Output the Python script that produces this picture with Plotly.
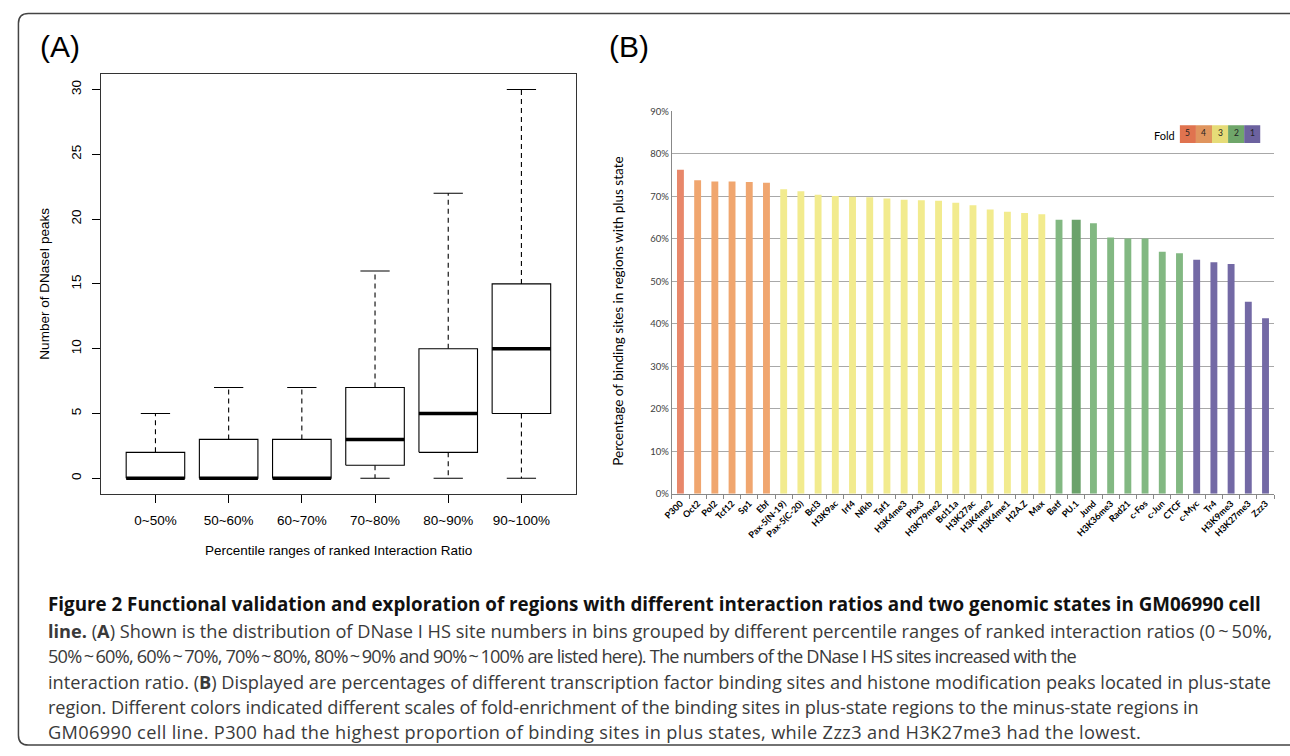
import plotly.graph_objects as go

W, H = 1290, 756

# ---------------- Panel A data (box plot summary statistics) ----------------
ranges = ["0~50%", "50~60%", "60~70%", "70~80%", "80~90%", "90~100%"]
lower_whisker = [0, 0, 0, 0, 0, 0]
q1 = [0, 0, 0, 1, 2, 5]
median = [0, 0, 0, 3, 5, 10]
q3 = [2, 3, 3, 7, 10, 15]
upper_whisker = [5, 7, 7, 16, 22, 30]

# ---------------- Panel B data ----------------
factors = ["P300", "Oct2", "Pol2", "Tcf12", "Sp1", "Ebf", "Pax-5(N-19)", "Pax-5(C-20)",
           "Bcl3", "H3K9ac", "Irf4", "Nfkb", "Taf1", "H3K4me3", "Pbx3", "H3K79me2",
           "Bcl11a", "H3K27ac", "H3K4me2", "H3K4me1", "H2A.Z", "Max", "Batf", "PU.1",
           "Jund", "H3K36me3", "Rad21", "c-Fos", "c-Jun", "CTCF", "c-Myc", "Tr4",
           "H3K9me3", "H3K27me3", "Zzz3"]
percent_plus = [76.3, 73.8, 73.5, 73.5, 73.4, 73.2, 71.7, 71.2,
                70.4, 70.1, 69.9, 69.8, 69.5, 69.2, 69.1, 69.0,
                68.5, 67.9, 66.9, 66.4, 66.1, 65.8, 64.5, 64.5,
                63.7, 60.3, 60.1, 60.1, 57.0, 56.6, 55.1, 54.5,
                54.1, 45.2, 41.3]
fold = [5, 4, 4, 4, 4, 4, 3, 3,
        3, 3, 3, 3, 3, 3, 3, 3,
        3, 3, 3, 3, 3, 3, 2, 2,
        2, 2, 2, 2, 2, 2, 1, 1,
        1, 1, 1]
highlighted = ["PU.1"]
fold_levels = [5, 4, 3, 2, 1]
bar_colors = {5: "#E8876A", 4: "#F0A66F", 3: "#F2EB8E", 2: "#82B882", 1: "#7369A5"}
highlight_color = "#6BA26B"
legend_colors = {5: "#E0734F", 4: "#E0955E", 3: "#E6DC78", 2: "#6FA66A", 1: "#6C629F"}

T = "\u2009~\u2009"
caption_lines = [
    "<b>Figure 2 Functional validation and exploration of regions with different interaction ratios and two genomic states in GM06990 cell</b>",
    f"<b>line.</b> (<b>A</b>) Shown is the distribution of DNase I HS site numbers in bins grouped by different percentile ranges of ranked interaction ratios (0{T}50%,",
    f"50%{T}60%, 60%{T}70%, 70%{T}80%, 80%{T}90% and 90%{T}100% are listed here). The numbers of the DNase I HS sites increased with the",
    "interaction ratio. (<b>B</b>) Displayed are percentages of different transcription factor binding sites and histone modification peaks located in plus-state",
    "region. Different colors indicated different scales of fold-enrichment of the binding sites in plus-state regions to the minus-state regions in",
    "GM06990 cell line. P300 had the highest proportion of binding sites in plus states, while Zzz3 and H3K27me3 had the lowest.",
]
caption_sizes = [18.8, 18.2, 18.2, 18.2, 18.2, 18.2]
caption_spacing = [0, 0, -0.8, 0, -0.1, 0.35]
caption_colors = ["#111", "#3a3a3a", "#3a3a3a", "#3a3a3a", "#3a3a3a", "#3a3a3a"]


def px(x):
    return x / W


def py(y):
    return 1 - y / H


fig = go.Figure()

# ---------------- Panel A traces ----------------
half = 0.4
cap = 0.2
bx, by, wx, wy, cx, cy, mx, my = [], [], [], [], [], [], [], []
for i in range(len(ranges)):
    c = i + 1
    bx += [c - half, c + half, c + half, c - half, c - half, None]
    by += [q1[i], q1[i], q3[i], q3[i], q1[i], None]
    wx += [c, c, None, c, c, None]
    wy += [q3[i], upper_whisker[i], None, q1[i], lower_whisker[i], None]
    cx += [c - cap, c + cap, None, c - cap, c + cap, None]
    cy += [upper_whisker[i], upper_whisker[i], None, lower_whisker[i], lower_whisker[i], None]
    mx += [c - half, c + half, None]
    my += [median[i], median[i], None]

line_black = dict(color="black", width=1.1)
fig.add_trace(go.Scatter(x=wx, y=wy, mode="lines", line=dict(color="black", width=1.1, dash="5px,4px"),
                         xaxis="x", yaxis="y", showlegend=False, hoverinfo="skip"))
fig.add_trace(go.Scatter(x=cx, y=cy, mode="lines", line=line_black,
                         xaxis="x", yaxis="y", showlegend=False, hoverinfo="skip"))
fig.add_trace(go.Scatter(x=bx, y=by, mode="lines", line=line_black, fill="toself", fillcolor="white",
                         xaxis="x", yaxis="y", showlegend=False, hoverinfo="skip"))
fig.add_trace(go.Scatter(x=mx, y=my, mode="lines", line=dict(color="black", width=3.5),
                         xaxis="x", yaxis="y", showlegend=False, hoverinfo="skip"))

# ---------------- Panel B traces ----------------
colors = [highlight_color if f in highlighted else bar_colors[fv] for f, fv in zip(factors, fold)]
widths = [0.52 if f in highlighted else 0.4 for f in factors]
fig.add_trace(go.Bar(x=factors, y=percent_plus, marker=dict(color=colors, line=dict(width=0)),
                     width=widths, xaxis="x2", yaxis="y2", showlegend=False))

font_r = "Liberation Sans, Arial, sans-serif"
font_b = "Lato, Open Sans, sans-serif"

fig.update_layout(
    width=W, height=H,
    margin=dict(l=0, r=0, t=0, b=0),
    paper_bgcolor="white", plot_bgcolor="white",
    xaxis=dict(domain=[px(92), px(570)], range=[0.26, 6.74], tickvals=list(range(1, len(ranges) + 1)),
               ticktext=ranges, ticks="outside", ticklen=8, tickcolor="black", tickwidth=1,
               ticklabelstandoff=6,
               showline=True, linecolor="#333", linewidth=1, mirror=True, showgrid=False, zeroline=False,
               tickfont=dict(family=font_r, size=13.5, color="black"), anchor="y"),
    yaxis=dict(domain=[py(495), py(69)], range=[-1.2, 31.2], tickvals=[0, 5, 10, 15, 20, 25, 30],
               tickangle=-90, ticks="outside", ticklen=8, tickcolor="black", tickwidth=1,
               ticklabelstandoff=6,
               showline=True, linecolor="#333", linewidth=1, mirror=True, showgrid=False, zeroline=False,
               tickfont=dict(family=font_r, size=13.5, color="black"), anchor="x"),
    xaxis2=dict(domain=[px(667), px(1274)], type="category", tickangle=-45, ticks="outside",
                tickson="boundaries", ticklen=4, tickcolor="#888", showline=True, linecolor="#888",
                linewidth=1, showgrid=False, zeroline=False,
                tickfont=dict(family=font_b, size=9, color="black", weight="bold"), anchor="y2"),
    yaxis2=dict(domain=[py(495), py(107)], range=[0, 90], dtick=10, ticksuffix="%",
                showgrid=True, gridcolor="#A8A8A8", gridwidth=1, showline=True, linecolor="#888",
                linewidth=1, zeroline=False, ticks="",
                tickfont=dict(family=font_b, size=9.5, color="#404040"), anchor="x2"),
)

ann = []
# Panel labels
ann.append(dict(text="(A)", x=px(28), y=py(41), xanchor="left", yanchor="middle",
                font=dict(family=font_r, size=30, color="black")))
ann.append(dict(text="(B)", x=px(602), y=py(41), xanchor="left", yanchor="middle",
                font=dict(family=font_r, size=30, color="black")))
# Panel A titles
ann.append(dict(text="Percentile ranges of ranked Interaction Ratio", x=px(331), y=py(553),
                xanchor="center", yanchor="middle", font=dict(family=font_r, size=13.5, color="black")))
ann.append(dict(text="Number of DNaseI peaks", x=px(35), y=py(282), textangle=-90,
                xanchor="center", yanchor="middle", font=dict(family=font_r, size=13.5, color="black")))
# Panel B y title
ann.append(dict(text="Percentage of binding sites in regions with plus state", x=px(613), y=py(310),
                textangle=-90, xanchor="center", yanchor="middle",
                font=dict(family=font_b, size=13.5, color="black")))
# Fold legend
ann.append(dict(text="Fold", x=px(1176), y=py(131), xanchor="right", yanchor="middle",
                font=dict(family=font_b, size=11, color="black")))
shapes = []
lx0, lw_box, ly0, ly1 = 1179, 16.2, 121, 139
for k, lev in enumerate(fold_levels):
    x0 = lx0 + k * lw_box
    shapes.append(dict(type="rect", xref="paper", yref="paper", x0=px(x0), x1=px(x0 + lw_box),
                       y0=py(ly1), y1=py(ly0), fillcolor=legend_colors[lev], line=dict(width=0)))
    ann.append(dict(text=str(lev), x=px(x0 + lw_box / 2), y=py(129), xanchor="center", yanchor="middle",
                    font=dict(family=font_b, size=8.5, color="#222")))

# Caption
cap_y = [607, 634, 660, 686, 711, 737]
for t, yy, fs, fc, ls in zip(caption_lines, cap_y, caption_sizes, caption_colors, caption_spacing):
    txt = f'<span style="letter-spacing:{ls}px">{t}</span>' if ls else t
    ann.append(dict(text=txt, x=px(36), y=py(yy), xanchor="left", yanchor="middle",
                    font=dict(family="Open Sans, sans-serif", size=fs, color=fc)))

for a in ann:
    a.update(xref="paper", yref="paper", showarrow=False)

# Outer rounded frame
r = 10
x0f, y0f, x1f, y1f = 8.5, 7.5, 1300, 750
path = (f"M {px(x0f + r)},{py(y0f)} L {px(x1f)},{py(y0f)} L {px(x1f)},{py(y1f)} "
        f"L {px(x0f + r)},{py(y1f)} Q {px(x0f)},{py(y1f)} {px(x0f)},{py(y1f - r)} "
        f"L {px(x0f)},{py(y0f + r)} Q {px(x0f)},{py(y0f)} {px(x0f + r)},{py(y0f)} Z")
shapes.append(dict(type="path", xref="paper", yref="paper", path=path,
                   line=dict(color="#444", width=1.5), layer="below"))

fig.update_layout(annotations=ann, shapes=shapes)

fig.write_html("out.html", config={"displayModeBar": False},
               post_script="document.body.style.margin='0px';document.body.style.overflow='hidden';")
